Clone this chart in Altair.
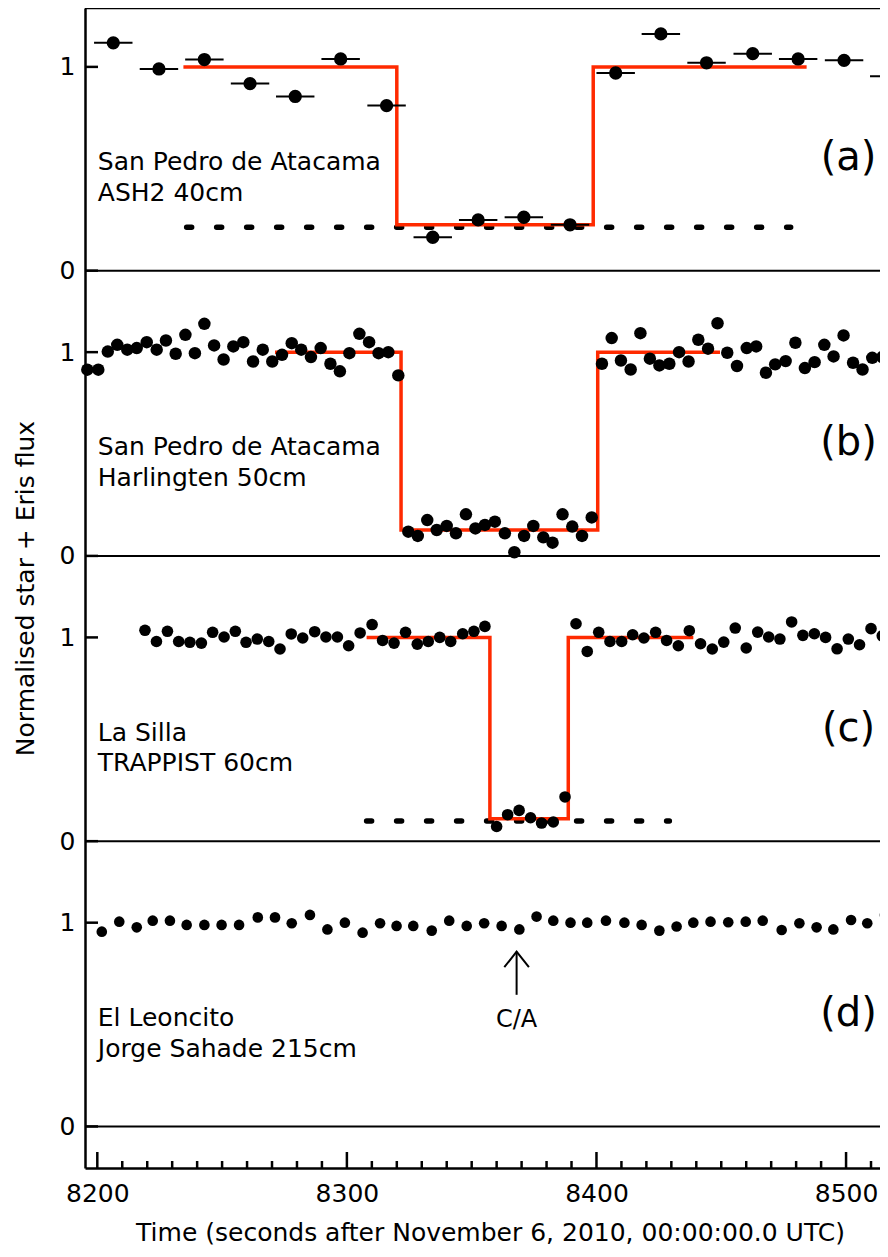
import altair as alt
import pandas as pd

# ---------------- data ----------------
# (a) San Pedro de Atacama, ASH2 40cm
a_t = [8206.4, 8224.7, 8242.9, 8261.2, 8279.3, 8297.5, 8315.9, 8334.4, 8352.6,
       8370.9, 8389.4, 8407.7, 8425.8, 8444.1, 8462.6, 8480.8, 8499.2, 8517.3]
a_v = [1.118, 0.990, 1.036, 0.918, 0.855, 1.039, 0.810, 0.164, 0.249,
       0.262, 0.225, 0.970, 1.162, 1.020, 1.065, 1.039, 1.032, 0.954]
a_halfexp = 7.7  # half exposure (s), horizontal bars

# (b) San Pedro de Atacama, Harlingten 50cm
b_t = [8196.0, 8200.4, 8204.2, 8208.0, 8212.0, 8215.8, 8219.8, 8223.8, 8227.5, 8231.4,
       8235.3, 8239.1, 8242.9, 8246.8, 8250.6, 8254.5, 8258.5, 8262.4, 8266.3, 8270.1,
       8274.0, 8277.9, 8281.7, 8285.6, 8289.5, 8293.4, 8297.2, 8301.0, 8305.0, 8308.9,
       8312.7, 8316.6, 8320.6,
       8324.6, 8328.4, 8332.2, 8336.0, 8340.0, 8343.7, 8347.7, 8351.5, 8355.3, 8359.3,
       8363.3, 8367.1, 8371.0, 8374.7, 8378.7, 8382.4, 8386.4, 8390.3, 8394.2, 8398.1,
       8402.2, 8406.1, 8409.8, 8413.7, 8417.6, 8421.4, 8425.2, 8429.2, 8433.1, 8436.9,
       8440.8, 8444.7, 8448.5, 8452.4, 8456.3, 8460.2, 8464.0, 8467.9, 8471.6, 8475.8,
       8479.7, 8483.5, 8487.4, 8491.3, 8495.0, 8499.0, 8502.8, 8506.6, 8510.5, 8514.5]
b_v = [0.914, 0.914, 1.003, 1.036, 1.012, 1.020, 1.049, 1.012, 1.057, 0.992,
       1.085, 0.995, 1.139, 1.033, 0.964, 1.028, 1.049, 0.954, 1.012, 0.954,
       0.987, 1.044, 1.012, 0.976, 1.020, 0.943, 0.906, 0.995, 1.090, 1.049,
       0.995, 1.000, 0.886,
       0.119, 0.098, 0.176, 0.127, 0.147, 0.111, 0.204, 0.135, 0.152, 0.168,
       0.111, 0.018, 0.098, 0.147, 0.091, 0.065, 0.204, 0.144, 0.098, 0.189,
       0.943, 1.069, 0.959, 0.915, 1.093, 0.968, 0.935, 0.943, 1.000, 0.954,
       1.061, 1.017, 1.142, 0.997, 0.932, 1.020, 1.028, 0.899, 0.940, 0.956,
       1.046, 0.922, 0.951, 1.036, 0.979, 1.082, 0.948, 0.915, 0.972, 0.976]

# (c) La Silla, TRAPPIST 60cm
c_t = [8219.1, 8223.7, 8228.1, 8232.6, 8237.1, 8241.7, 8246.2, 8250.8, 8255.3, 8259.6,
       8264.1, 8268.7, 8273.2, 8277.7, 8282.3, 8287.1, 8291.6, 8296.2, 8300.7, 8305.3,
       8310.1, 8314.3, 8318.9, 8323.5, 8328.2, 8332.6, 8337.2, 8341.6, 8346.4, 8350.9,
       8355.3,
       8360.0, 8364.4, 8369.0, 8373.6, 8378.0, 8382.7, 8387.4,
       8391.8, 8396.3, 8400.9, 8405.4, 8410.1, 8414.5, 8419.0, 8423.7, 8428.1, 8432.8,
       8437.2, 8441.7, 8446.4, 8451.0, 8455.6, 8460.0, 8464.6, 8469.0, 8473.5, 8478.2,
       8482.7, 8487.3, 8491.8, 8496.4, 8500.9, 8505.4, 8510.0, 8514.5]
c_v = [1.035, 0.980, 1.030, 0.980, 0.976, 0.972, 1.025, 1.002, 1.030, 0.976,
       0.992, 0.980, 0.943, 1.017, 0.997, 1.028, 1.002, 1.002, 0.959, 1.022,
       1.063, 0.985, 0.972, 1.025, 0.967, 0.980, 1.000, 0.980, 1.018, 1.030,
       1.054,
       0.072, 0.130, 0.151, 0.115, 0.089, 0.094, 0.217,
       1.067, 0.931, 1.025, 0.980, 0.980, 1.013, 0.997, 1.025, 0.985, 0.959,
       1.033, 0.969, 0.943, 0.977, 1.046, 0.948, 1.026, 1.002, 0.992, 1.076,
       1.010, 1.018, 1.000, 0.944, 0.992, 0.964, 1.043, 1.008]

# (d) El Leoncito, Jorge Sahade 215cm
d_t = [8201.8, 8208.8, 8215.8, 8222.2, 8229.1, 8235.8, 8242.9, 8249.8, 8256.8, 8264.3,
       8271.2, 8277.9, 8285.2, 8292.2, 8299.2, 8306.3, 8313.3, 8319.9, 8326.6, 8334.0,
       8341.0, 8348.0, 8355.0, 8362.0, 8369.1, 8376.0, 8382.7, 8389.6, 8396.3, 8403.8,
       8411.2, 8418.1, 8425.2, 8432.1, 8438.8, 8445.7, 8452.8, 8459.8, 8466.6, 8474.2,
       8481.3, 8488.2, 8494.9, 8502.0, 8508.5, 8515.6]
d_v = [0.956, 1.005, 0.977, 1.010, 1.010, 0.989, 0.989, 0.989, 0.989, 1.026,
       1.026, 0.997, 1.038, 0.967, 1.000, 0.951, 0.997, 0.984, 0.984, 0.961,
       1.010, 0.984, 0.997, 0.984, 0.967, 1.030, 1.010, 1.000, 1.000, 1.010,
       1.000, 0.989, 0.961, 0.981, 1.000, 1.005, 1.002, 1.005, 1.010, 0.964,
       0.997, 0.977, 0.967, 1.013, 0.997, 1.038]

# model square-well light curves (red)
model_a_t = [8234.5, 8320.0, 8320.0, 8398.7, 8398.7, 8484.2]
model_a_v = [1.0, 1.0, 0.225, 0.225, 1.0, 1.0]
model_b_t = [8271.2, 8321.7, 8321.7, 8400.5, 8400.5, 8449.5]
model_b_v = [1.0, 1.0, 0.127, 0.127, 1.0, 1.0]
model_c_t = [8307.9, 8357.3, 8357.3, 8388.7, 8388.7, 8438.8]
model_c_v = [1.0, 1.0, 0.110, 0.110, 1.0, 1.0]

# dotted background (zero Eris) levels
dot_a_t = [8235.8, 8477.8]
dot_a_v = [0.213, 0.213]
dot_c_t = [8307.9, 8429.2]
dot_c_v = [0.0985, 0.0985]

stations = {
    "a": ["San Pedro de Atacama", "ASH2 40cm"],
    "b": ["San Pedro de Atacama", "Harlingten 50cm"],
    "c": ["La Silla", "TRAPPIST 60cm"],
    "d": ["El Leoncito", "Jorge Sahade 215cm"],
}
panel_tags = ["(a)", "(b)", "(c)", "(d)"]
x_tick_labels = [8200, 8300, 8400, 8500]
ca_t = 8368.0

# ---------------- layout constants ----------------
OFF = {"a": 4.2, "b": 2.8, "c": 1.4, "d": 0.0}
W, H = 795, 1160
XDOM = [8195.07, 8513.6]
YDOM = [-0.204, 5.489]
FONT = "DejaVu Sans"
RED = "#ff2a00"

xs = alt.Scale(domain=XDOM, nice=False, zero=False)
ys = alt.Scale(domain=YDOM, nice=False, zero=False)

# ---------------- tables ----------------
def pts(p, ts, vs):
    return pd.DataFrame({"panel": p, "t": ts, "v": vs, "y": [v + OFF[p] for v in vs]})

points = pd.concat([pts("a", a_t, a_v), pts("b", b_t, b_v),
                    pts("c", c_t, c_v), pts("d", d_t, d_v)], ignore_index=True)
errs = pts("a", a_t, a_v)
errs["lo"] = errs["t"] - a_halfexp
errs["hi"] = errs["t"] + a_halfexp

def line(p, ts, vs):
    df = pts(p, ts, vs)
    df["i"] = range(len(df))
    return df

models = pd.concat([line("a", model_a_t, model_a_v), line("b", model_b_t, model_b_v),
                    line("c", model_c_t, model_c_v)], ignore_index=True)
dots = pd.concat([line("a", dot_a_t, dot_a_v), line("c", dot_c_t, dot_c_v)], ignore_index=True)

lab_rows = []
for p, (l1, l2) in stations.items():
    lab_rows.append({"t": 8200.2, "y": OFF[p] + 0.494, "text": l1})
    lab_rows.append({"t": 8200.2, "y": OFF[p] + 0.343, "text": l2})
labels = pd.DataFrame(lab_rows)
tags = pd.DataFrame({"t": 8501.0, "y": [OFF[p] + 0.494 for p in "abcd"], "text": panel_tags})

seps = pd.DataFrame({"y": [OFF[p] for p in "abcd"]})
yticks = sorted([OFF[p] for p in "abcd"] + [OFF[p] + 1 for p in "abcd"])
ytick_df = pd.DataFrame({"y": yticks})
xmaj = pd.DataFrame({"t": x_tick_labels})
xmin = pd.DataFrame({"t": [t for t in range(8200, 8520, 10) if t % 100 != 0]})
one = pd.DataFrame({"k": [0]})

ca = pd.DataFrame({"t": [ca_t], "y1": [0.646], "y2": [0.858], "ty": [0.490], "text": ["C/A"]})

# ---------------- layers ----------------
X = lambda f: alt.X(f, scale=xs)
Y = lambda f: alt.Y(f, scale=ys)

base_axes = alt.Chart(seps).mark_rule(color="black", strokeWidth=2).encode(
    y=alt.Y("y:Q", scale=ys, axis=alt.Axis(
        values=yticks,
        labelExpr="(round(datum.value * 10) % 14) == 0 ? '0' : '1'",
        ticks=False, tickSize=0, grid=False,
        domain=True, domainColor="black", domainWidth=2.5,
        labelPadding=10, labelFont=FONT, labelFontSize=25, labelColor="black",
        title="Normalised star + Eris flux", titleFont=FONT, titleFontSize=25,
        titleFontWeight="normal", titleColor="black", titleAngle=270,
        titleX=-52, titleY=H / 2, titleAlign="center", titleBaseline="alphabetic")),
    x=alt.value(0), x2=alt.value(W),
)

xaxis_layer = alt.Chart(xmaj).mark_rule(color="black", strokeWidth=2.5).encode(
    x=alt.X("t:Q", scale=xs, axis=alt.Axis(
        values=x_tick_labels, format="d",
        ticks=False, tickSize=0, grid=False,
        domain=True, domainColor="black", domainWidth=2.5,
        labelPadding=13, labelFont=FONT, labelFontSize=25, labelColor="black",
        labelFlush=False,
        title="Time (seconds after November 6, 2010, 00:00:00.0 UTC)",
        titleFont=FONT, titleFontSize=25, titleFontWeight="normal", titleColor="black",
        titleX=405, titleY=72, titleAlign="center", titleBaseline="alphabetic")),
    y=alt.value(H), y2=alt.value(H - 16),
)

minor_ticks = alt.Chart(xmin).mark_rule(color="black", strokeWidth=2.5).encode(
    x=X("t:Q"), y=alt.value(H), y2=alt.value(H - 7))

y_ticks = alt.Chart(ytick_df).mark_rule(color="black", strokeWidth=2.5).encode(
    y=Y("y:Q"), x=alt.value(0), x2=alt.value(13))

top_frame = alt.Chart(one).mark_rule(color="black", strokeWidth=2.5).encode(
    y=alt.value(0), x=alt.value(0), x2=alt.value(W))

model_layer = alt.Chart(models).mark_line(color=RED, strokeWidth=3.5).encode(
    x=X("t:Q"), y=Y("y:Q"), detail="panel:N", order="i:Q")

dot_layer = alt.Chart(dots).mark_line(color="black", strokeWidth=5.5, strokeCap="round",
                                      strokeDash=[5, 25]).encode(
    x=X("t:Q"), y=Y("y:Q"), detail="panel:N", order="i:Q")

err_layer = alt.Chart(errs).mark_rule(color="black", strokeWidth=2).encode(
    x=X("lo:Q"), x2="hi:Q", y=Y("y:Q"))

point_layer = alt.Chart(points).mark_circle(color="black", opacity=1).encode(
    x=X("t:Q"), y=Y("y:Q"),
    size=alt.Size("panel:N", scale=alt.Scale(domain=["a", "b", "c", "d"],
                                             range=[177, 113, 100, 95]), legend=None))

label_layer = alt.Chart(labels).mark_text(align="left", baseline="alphabetic", font=FONT,
                                          fontSize=25, color="black").encode(
    x=X("t:Q"), y=Y("y:Q"), text="text:N")

tag_layer = alt.Chart(tags).mark_text(align="center", baseline="alphabetic", font=FONT,
                                      fontSize=40, color="black").encode(
    x=X("t:Q"), y=Y("y:Q"), text="text:N")

ca_shaft = alt.Chart(ca).mark_rule(color="black", strokeWidth=2).encode(
    x=X("t:Q"), y=Y("y1:Q"), y2="y2:Q")
ca_head = alt.Chart(ca).mark_point(shape="M -1 1.27 L 0 0 L 1 1.27", filled=False,
                                   color="black", strokeWidth=2, size=605, opacity=1).encode(
    x=X("t:Q"), y=Y("y2:Q"))
ca_text = alt.Chart(ca).mark_text(align="center", baseline="alphabetic", font=FONT,
                                  fontSize=24, color="black").encode(
    x=X("t:Q"), y=Y("ty:Q"), text="text:N")

chart = alt.layer(
    base_axes, xaxis_layer, minor_ticks, y_ticks, top_frame,
    dot_layer, model_layer, err_layer, point_layer,
    label_layer, tag_layer, ca_shaft, ca_head, ca_text,
).properties(
    width=W, height=H,
    autosize=alt.AutoSizeParams(type="none"),
    padding={"left": 77, "top": 0, "right": 0, "bottom": 80},
    background="white",
).configure_view(stroke=None)

chart.save("out.html", embed_options={"renderer": "svg", "actions": False})
